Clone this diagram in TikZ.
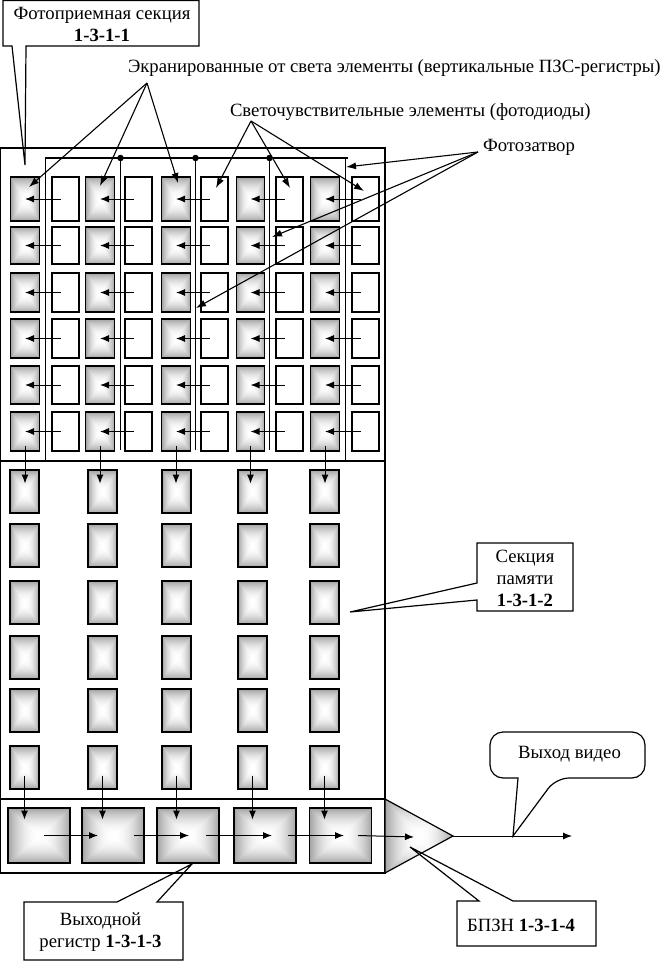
\documentclass[tikz,border=0pt]{standalone}
\usepackage{fontspec}
\setmainfont{Liberation Serif}
\usetikzlibrary{arrows.meta,calc}
\pgfdeclarefunctionalshading{rectgrad}{\pgfpoint{-50bp}{-50bp}}{\pgfpoint{50bp}{50bp}}{}{
  abs exch abs 2 copy gt {pop} {exch pop} ifelse
  25 div dup mul 0.36 mul 1 exch sub dup dup
}
\tikzset{
  frameline/.style={line width=1.2pt,black},
  thinline/.style={line width=1.2pt,black},
  cellbase/.style={draw=black,line width=1.2pt,inner sep=0pt,outer sep=0pt},
  gradcell/.style={cellbase,shading=rectgrad},
  whitecell/.style={cellbase,fill=white,line width=1.05pt},
  arr/.style={line width=1pt,black,-{Latex[length=9pt,width=7pt]}},
  callarr/.style={line width=1.1pt,black,-{Latex[length=10pt,width=7pt]}},
  callout/.style={line width=1.2pt,black,line join=miter},
  labeltext/.style={inner sep=0pt,outer sep=0pt,font=\fontsize{18.7pt}{22pt}\selectfont,align=center},
  dot/.style={circle,fill=black,inner sep=0pt,minimum size=6.5pt},
}
\begin{document}
\begin{tikzpicture}[x=1pt,y=-1pt]
\useasboundingbox (0,0) rectangle (660,961);
\fill[white] (0,0) rectangle (660,961);
% section frames
\draw[frameline] (0.5,148) rectangle (385,461);
\draw[frameline] (0.5,461) rectangle (385,799);
\draw[frameline] (0.5,799) rectangle (385,873);
% photo gate
\coordinate (gateL) at (45.5,158);
\coordinate (gateR) at (348,158);
\draw[thinline] (45.5,461) -- (gateL) -- (gateR);
\draw[thinline] (345.5,158) -- (345.5,461);
\node[dot] (d1) at (120.5,158) {};
\node[dot] (d2) at (195.5,158) {};
\node[dot] (d3) at (269.5,158) {};
\coordinate (d1e) at (120.5,450);
\coordinate (d2e) at (195.5,450);
\coordinate (d3e) at (269.5,450);
\draw[thinline] (d1.center) -- (d1e);
\draw[thinline] (d2.center) -- (d2e);
\draw[thinline] (d3.center) -- (d3e);
% photosensitive section
\foreach \gx/\wx [count=\c] in {25/65.5,100/138.5,176/214.5,250.5/289.5,325/365.5}
  \foreach \cy/\h [count=\r] in {199/44,245.5/37,292.5/39,338.5/39,385/38,431.5/39}{
    \node[gradcell,minimum width=28.5pt,minimum height=\h pt] (g\c-\r) at (\gx,\cy) {};
    \node[whitecell,minimum width=27pt,minimum height=\h pt] (w\c-\r) at (\wx,\cy) {};
    \draw[arr] ([xshift=-5pt]w\c-\r.center) -- (g\c-\r.center);
  }
% memory section
\foreach \mx [count=\c] in {24.5,102.5,176.5,252.5,324.5}
  \foreach \cy [count=\r] in {491.5,545.5,602.5,657.5,710.5,767.5}
    \node[gradcell,minimum width=29pt,minimum height=43pt] (m\c-\r) at (\mx,\cy) {};
% register
\foreach \rx [count=\c] in {39,113,188,265,340.5}
  \node[gradcell,minimum width=62pt,minimum height=55pt] (r\c) at (\rx,835.5) {};
% amplifier
\coordinate (apex) at (453,836);
\path[shading=rectgrad] (385,799) -- (385,873) -- (apex) -- cycle;
\draw[frameline] (385,799) -- (385,873) -- (apex) -- cycle;
\coordinate (amp) at (414,837);
\coordinate (outend) at (572,836);
\draw[arr] (apex) -- (outend);
% vertical transfer
\foreach \c in {1,...,5}{
  \draw[arr] (g\c-6.center) ++(0,14) -- ++(0,38);
  \draw[arr] (m\c-6.center) ++(0,8) -- ++(0,44);
}
% register transfer
\draw[arr] ([xshift=5pt]r1.center) -- ([xshift=-15pt]r2.center);
\draw[arr] ([xshift=21pt]r2.center) -- ([xshift=1pt]r3.center);
\draw[arr] ([xshift=18pt]r3.center) -- ([xshift=7pt]r4.center);
\draw[arr] ([xshift=23pt]r4.center) -- ([xshift=3.5pt]r5.center);
\draw[arr] ([xshift=17.5pt]r5.center) -- (amp);
% labels
\node[labeltext,anchor=west] (ekran) at (128,68) {Экранированные от света элементы (вертикальные ПЗС-регистры)};
\node[labeltext,anchor=west] (svet) at (230,112) {Светочувствительные элементы (фотодиоды)};
\node[labeltext,anchor=west] (zatv) at (483,147) {Фотозатвор};
\coordinate (ek) at (147,83);
\coordinate (sv) at (251,121);
\coordinate (za) at (478,152);
\draw[callarr] (ek) -- ([shift={(4,-12)}]g1-1.center);
\draw[callarr] (ek) -- ([shift={(0,-13)}]g2-1.center);
\draw[callarr] (ek) -- ([shift={(2,-16)}]g3-1.center);
\draw[callarr] (sv) -- ([shift={(1.5,-11)}]w3-1.center);
\draw[callarr] (sv) -- ([shift={(0.5,-11)}]w4-1.center);
\draw[callarr] (sv) -- ([shift={(-1.5,-8)}]w5-1.center);
\draw[callarr] (za) -- (346,167);
\draw[callarr] (za) -- ([shift={(21.5,-8.5)}]g4-2.center);
\draw[callarr] (za) -- ([shift={(20,15.5)}]g3-3.center);
% callouts
\node[labeltext] (c1) at (102,24) {Фотоприемная секция\\\textbf{1-3-1-1}};
\draw[callout] (26,46) -- (199,46) -- (199,0.6) -- (3,0.6) -- (3,46) -- (12,46) -- (25,165) -- cycle;
\node[labeltext] (c2) at (525,578) {Секция\\памяти\\\textbf{1-3-1-2}};
\draw[callout] (477,583) -- (477,543) -- (573,543) -- (573,611) -- (477,611) -- (477,600) -- (350,612) -- cycle;
\node[labeltext] (c3) at (100.5,932) {Выходной\\регистр \textbf{1-3-1-3}};
\draw[callout] (117,902) -- (24,902) -- (24,960) -- (183,960) -- (183,902) -- (157,902) -- (192,864) -- cycle;
\node[labeltext] (c4) at (521,925) {БПЗН \textbf{1-3-1-4}};
\draw[callout] (479,901) -- (457,901) -- (457,946) -- (596,946) -- (596,901) -- (513,901) -- (410,847) -- cycle;
\node[labeltext] (c5) at (569.5,754) {Выход видео};
\draw[callout] (518,778) [rounded corners=13pt] -- (490,778) -- (490,732) -- (645,732) -- (645,778) -- (556,778) [sharp corners] -- (513,836) -- cycle;
\end{tikzpicture}
\end{document}
